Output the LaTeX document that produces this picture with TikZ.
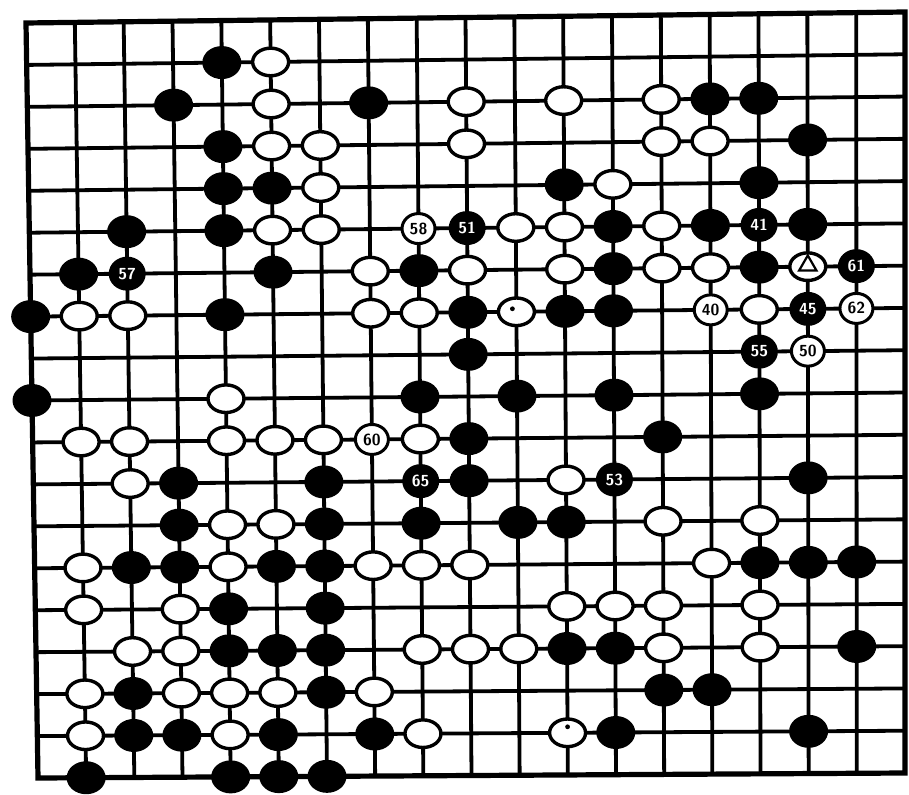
\documentclass[tikz,border=0pt]{standalone}
\usepackage{tikz}
\usetikzlibrary{shapes.geometric}
\tikzset{
  gridline/.style={line width=1.9pt},
  boardedge/.style={line width=2.6pt,line join=miter},
  bstone/.style={ellipse,fill=black,minimum width=19.5pt,minimum height=16.5pt,inner sep=0pt},
  wstone/.style={ellipse,draw=black,fill=white,line width=1.7pt,minimum width=18pt,minimum height=13.8pt,inner sep=0pt},
  numfont/.style={font=\fontsize{8}{8}\selectfont\sffamily\bfseries},
  bnum/.style={bstone,numfont,minimum width=18.5pt,minimum height=17pt,text=white},
  wnum/.style={wstone,numfont,minimum width=16.5pt,minimum height=15pt,line width=1.5pt},
  trimark/.style={regular polygon,regular polygon sides=3,draw=black,line width=1.1pt,minimum size=10pt,inner sep=0pt},
}

\begin{document}
\begin{tikzpicture}[x=0.5pt,y=0.5pt]
  \useasboundingbox (0,0) rectangle (909,794);
  % board points (the scan is a little out of square)
  \foreach \c in {0,...,18}
    \foreach \r in {0,...,18}
      \coordinate (p-\c-\r) at ({26+12*\r/18+\c/18*(879-12*\r/18)},{771+11*\c/18-\r/18*(755+6*\c/18)});
  \foreach \i in {1,...,17} {
    \draw[gridline] (p-\i-0) -- (p-\i-18);
    \draw[gridline] (p-0-\i) -- (p-18-\i);
  }
  \draw[boardedge] (p-0-0) -- (p-18-0) -- (p-18-18) -- (p-0-18) -- cycle;

  % black
  \foreach \c/\r in {4/1, 3/2,7/2,14/2,15/2, 4/3,16/3, 4/4,5/4,11/4,15/4,
      2/5,4/5,12/5,14/5,16/5, 1/6,5/6,8/6,12/6,15/6, 0/7,4/7,9/7,11/7,12/7,
      9/8, 0/9,8/9,10/9,12/9,15/9, 9/10,13/10, 3/11,6/11,9/11,16/11,
      3/12,6/12,8/12,10/12,11/12, 2/13,3/13,5/13,6/13,15/13,16/13,17/13,
      4/14,6/14, 4/15,5/15,6/15,11/15,12/15,17/15, 2/16,6/16,13/16,14/16,
      2/17,3/17,5/17,7/17,12/17,16/17, 1/18,4/18,5/18,6/18}
    \node[bstone] (b-\c-\r) at (p-\c-\r) {};

  % white
  \foreach \c/\r in {5/1, 5/2,9/2,11/2,13/2, 5/3,6/3,9/3,13/3,14/3, 6/4,12/4,
      5/5,6/5,10/5,11/5,13/5, 7/6,9/6,11/6,13/6,14/6,16/6,
      1/7,2/7,7/7,8/7,10/7,15/7, 4/9, 1/10,2/10,4/10,5/10,6/10,8/10,
      2/11,11/11, 4/12,5/12,13/12,15/12, 1/13,4/13,7/13,8/13,9/13,14/13,
      1/14,3/14,11/14,12/14,13/14,15/14, 2/15,3/15,8/15,9/15,10/15,13/15,15/15,
      1/16,3/16,4/16,5/16,7/16, 1/17,4/17,8/17,11/17}
    \node[wstone] (w-\c-\r) at (p-\c-\r) {};

  % numbered moves
  \foreach \c/\r/\n in {2/6/57, 9/5/51, 15/5/41, 17/6/61, 16/7/45, 15/8/55, 8/11/65, 12/11/53}
    \node[bnum] (m\n) at (p-\c-\r) {\n};
  \foreach \c/\r/\n in {8/5/58, 14/7/40, 17/7/62, 16/8/50, 7/10/60}
    \node[wnum] (m\n) at (p-\c-\r) {\n};

  \node[trimark] (tri) at ([yshift=0.6pt]w-16-6.center) {};
  \fill ([shift={(-2pt,1.5pt)}]w-10-7.center) circle (1.2pt);
  \fill ([shift={(0pt,3pt)}]w-11-17.center) circle (1.2pt);
\end{tikzpicture}
\end{document}
